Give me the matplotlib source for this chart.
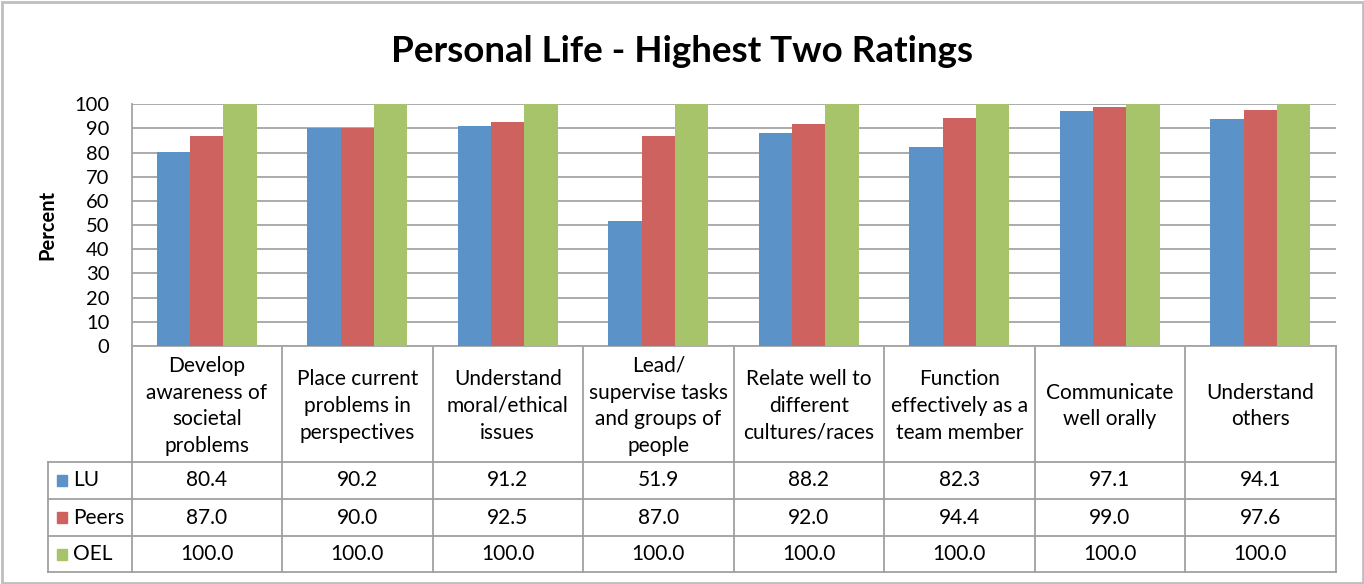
import numpy as np
import matplotlib
matplotlib.use("Agg")
import matplotlib.pyplot as plt
from matplotlib.transforms import blended_transform_factory
from matplotlib.patches import Rectangle

plt.rcParams['font.family'] = ['Lato', 'DejaVu Sans']

categories = [
    "Develop\nawareness of\nsocietal\nproblems",
    "Place current\nproblems in\nperspectives",
    "Understand\nmoral/ethical\nissues",
    "Lead/\nsupervise tasks\nand groups of\npeople",
    "Relate well to\ndifferent\ncultures/races",
    "Function\neffectively as a\nteam member",
    "Communicate\nwell orally",
    "Understand\nothers",
]
series_names = ["LU", "Peers", "OEL"]
lu = [80.4, 90.2, 91.2, 51.9, 88.2, 82.3, 97.1, 94.1]
peers = [87.0, 90.0, 92.5, 87.0, 92.0, 94.4, 99.0, 97.6]
oel = [100.0, 100.0, 100.0, 100.0, 100.0, 100.0, 100.0, 100.0]
yticks = [0, 10, 20, 30, 40, 50, 60, 70, 80, 90, 100]
colors = ["#5B93C9", "#CD625E", "#A8C46A"]

W, H = 1364, 584
fig = plt.figure(figsize=(W / 100, H / 100), dpi=100)

x0, x1 = 131.5, 1335.5
ytop, ybot = 104.3, 346.0
ax = fig.add_axes([x0 / W, 1 - ybot / H, (x1 - x0) / W, (ybot - ytop) / H])

n = len(categories)
x = np.arange(n)
bw = 1 / 4.5
for k, vals in enumerate([lu, peers, oel]):
    ax.bar(x + (k - 1) * bw, vals, width=bw, color=colors[k], zorder=3, label=series_names[k])

ax.set_xlim(-0.5, n - 0.5)
ax.set_ylim(0, 100)
ax.set_yticks(yticks)
ax.set_xticks([])
ax.tick_params(axis='y', length=0, labelsize=14.5, pad=16)
gridc = "#A5A5A5"
ax.grid(axis='y', color=gridc, linewidth=1.3, zorder=0)
for s in ['top', 'right']:
    ax.spines[s].set_visible(False)
for s in ['left', 'bottom']:
    ax.spines[s].set_color(gridc)
    ax.spines[s].set_linewidth(1.3)

ax.set_ylabel("Percent", fontsize=14.5, fontweight='bold')
ax.yaxis.set_label_coords((57 - x0) / (x1 - x0), 0.5)

# ---- data table below the axes ----
trans = blended_transform_factory(ax.transData, ax.transAxes)
hpx = ybot - ytop
unit_px = (x1 - x0) / n

def yf(py):
    return (ybot - py) / hpx

row_lines = [462.0, 499.0, 536.0, 572.0]
leg_left = -0.5 - (x0 - 48) / unit_px
tc = "#A0A0A0"
lw = 1.3
fs = 15

for i in range(n + 1):
    ax.plot([i - 0.5, i - 0.5], [0, yf(row_lines[-1])], color=tc, lw=lw,
            transform=trans, clip_on=False, zorder=1)
for py in row_lines:
    ax.plot([leg_left, n - 0.5], [yf(py), yf(py)], color=tc, lw=lw,
            transform=trans, clip_on=False, zorder=1)
ax.plot([leg_left, leg_left], [yf(row_lines[0]), yf(row_lines[-1])], color=tc, lw=lw,
        transform=trans, clip_on=False, zorder=1)

for i, c in enumerate(categories):
    ax.text(i, yf((ybot + row_lines[0]) / 2 + 2), c, transform=trans, ha='center', va='center',
            fontsize=fs, linespacing=1.42, clip_on=False)

for r, (name, vals) in enumerate(zip(series_names, [lu, peers, oel])):
    yc = yf((row_lines[r] + row_lines[r + 1]) / 2)
    key_x = leg_left + 9 / unit_px
    ax.add_patch(Rectangle((key_x, yc - 5.5 / hpx), 10 / unit_px, 11 / hpx,
                           transform=trans, color=colors[r], clip_on=False))
    ax.text(leg_left + 25 / unit_px, yc, name, transform=trans, ha='left', va='center',
            fontsize=fs, clip_on=False)
    for i, v in enumerate(vals):
        ax.text(i, yc, f"{v:.1f}", transform=trans, ha='center', va='center',
                fontsize=fs, clip_on=False)

fig.text(0.5, 1 - 52 / H, "Personal Life - Highest Two Ratings", ha='center', va='center',
         fontsize=26.5, fontweight='bold')

fig.patches.append(Rectangle((1.5 / W, 1.5 / H), (W - 3) / W, (H - 3) / H,
                             transform=fig.transFigure, fill=False,
                             edgecolor="#BEBEBE", linewidth=2))

fig.savefig("out.png", dpi=100)
